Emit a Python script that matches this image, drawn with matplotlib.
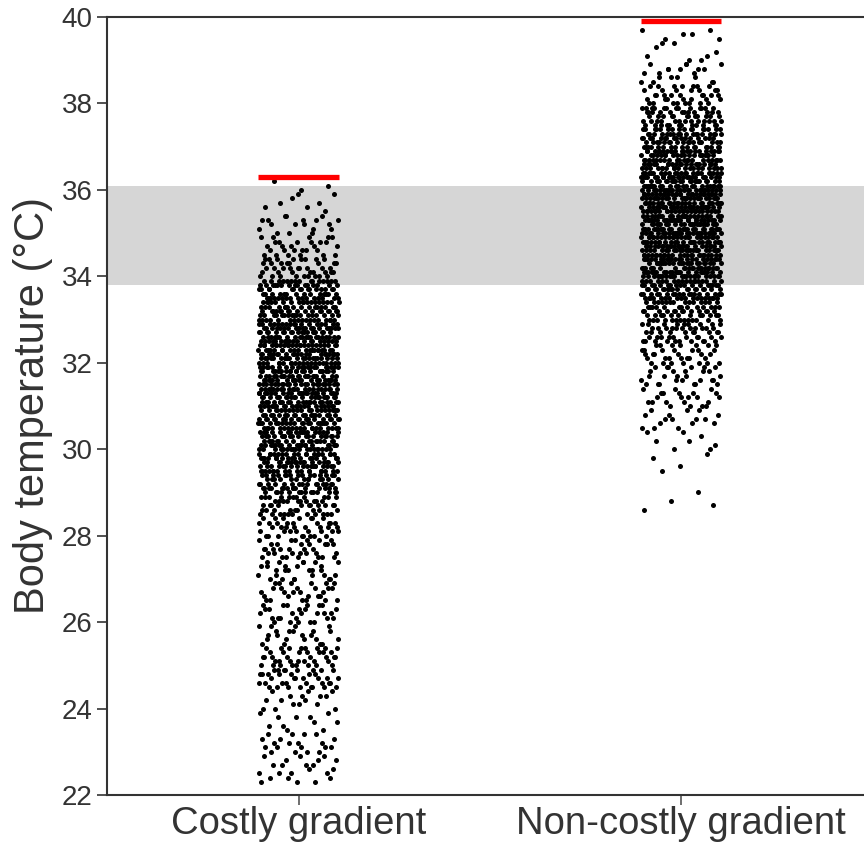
import matplotlib.pyplot as plt
import numpy as np

plt.rcParams['font.family'] = ['Liberation Sans', 'DejaVu Sans']

# groups on the x axis
groups = ["Costly gradient", "Non-costly gradient"]

# body temperature counts per bin, values at 0.1 degC
costly_lo = [22.3] + list(np.arange(22.5, 36.5, 0.5))
costly_hi = [22.5] + list(np.arange(23.0, 36.5, 0.5)) + [36.3]
costly_counts = [6, 16, 20, 11, 16, 38, 38, 22, 28, 28,
                 28, 34, 40, 52, 72, 90, 90, 95, 105, 105,
                 105, 95, 85, 75, 42, 28, 18, 8, 3]

noncostly_lo = list(np.arange(28.5, 40.0, 0.5))
noncostly_hi = list(np.arange(29.0, 39.6, 0.5)) + [39.8]
noncostly_counts = [3, 1, 4, 8, 16, 22, 28, 34, 50, 65,
                    90, 110, 120, 125, 125, 115, 100, 85, 62, 38,
                    20, 8, 6]

# red bars (max temperature) and grey band
red_line = [36.3, 39.9]
band_low, band_high = 33.8, 36.1


def vdc(n, base):
    # van der Corput radical inverse, used to lay out the jitter
    q, denom = 0.0, 1.0
    while n:
        denom *= base
        n, r = divmod(n, base)
        q += r / denom
    return q


def expand(lo, hi, counts):
    vals = []
    n = 0
    for l, h, c in zip(lo, hi, counts):
        steps = np.round(np.arange(l, h - 1e-9, 0.1), 1)
        for i in range(c):
            n += 1
            j = int(vdc(n, 2) * len(steps))
            vals.append(steps[j])
    return np.array(vals)


costly = expand(costly_lo, costly_hi, costly_counts)
noncostly = expand(noncostly_lo, noncostly_hi, noncostly_counts)

fig = plt.figure(figsize=(8.64, 8.47), dpi=100)
ax = fig.add_axes([0.124, 0.0614, 0.886, 0.9186])

ax.axhspan(band_low, band_high, color='#d6d6d6', lw=0, zorder=0)

jitter = 0.105
for k, vals in enumerate([costly, noncostly]):
    offs = np.array([vdc(i + 7, 3) for i in range(1, len(vals) + 1)])
    offs = offs * 2 * jitter - jitter
    ax.scatter(k + offs, vals, s=13, color='black', lw=0, zorder=2)
    ax.plot([k - jitter, k + jitter], [red_line[k], red_line[k]],
            color='#ff0000', lw=3.8, solid_capstyle='butt', zorder=3)

ax.set_xlim(-0.5, 1.5)
ax.set_ylim(22, 40)
ax.set_yticks(np.arange(22, 41, 2))
ax.set_xticks([0, 1])
ax.set_xticklabels(groups, fontsize=27.5, color='#333333')
ax.tick_params(axis='y', labelsize=20, labelcolor='#333333', length=7, width=1.2, color='#333333')
ax.tick_params(axis='x', length=7, width=1.2, color='#555555', pad=1)
ax.set_ylabel("Body temperature (°C)", fontsize=30, color='#333333', labelpad=6)
for s in ax.spines.values():
    s.set_color('#333333')
    s.set_linewidth(1.5)

fig.savefig("out.png", dpi=100)
